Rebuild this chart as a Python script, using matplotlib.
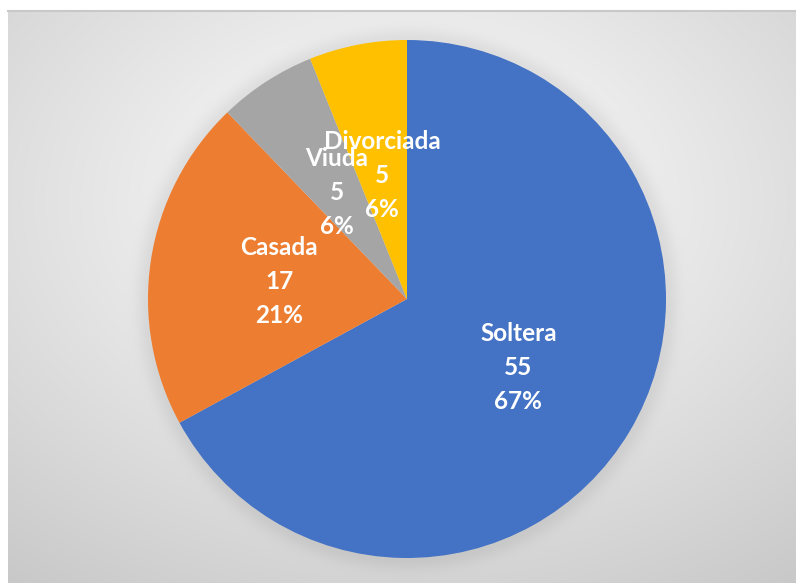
import numpy as np
import matplotlib
matplotlib.use("Agg")
import matplotlib.pyplot as plt

plt.rcParams["font.family"] = ["Lato", "DejaVu Sans"]

# data
categories = ["Soltera", "Casada", "Viuda", "Divorciada"]
counts = [55, 17, 5, 5]
percents = [67, 21, 6, 6]
colors = ["#4472C4", "#ED7D31", "#A5A5A5", "#FFC000"]

W, H = 796, 583
R = 259
pcx, pcy_top = 407, 299  # pie centre in pixels (from top)

fig = plt.figure(figsize=(W / 100, H / 100), dpi=100, facecolor="white")

# radial gradient background of the chart area, with soft pie shadow
bg = fig.add_axes([8 / W, 0, (W - 8) / W, (H - 11) / H])
bw, bh = W - 8, H - 11
yy, xx = np.mgrid[0:bh, 0:bw]
cx, cy = 396, 190
r = np.sqrt(((xx - cx) / bw) ** 2 + ((yy - cy) / bh) ** 2)
g = 1 - 0.26 * np.clip(r, 0, 1.2) ** 1.05
d = np.sqrt((xx - (pcx - 8)) ** 2 + (yy - (pcy_top - 11)) ** 2) - R
shadow = np.where(d > 0, np.exp(-(d / 12.0) ** 2), 1.0)
g = g - 0.06 * shadow
img = np.dstack([g, g, g])
bg.imshow(img, aspect="auto", origin="upper", extent=(0, bw, bh, 0))
bg.set_xticks([])
bg.set_yticks([])
for s in ["left", "right", "bottom"]:
    bg.spines[s].set_visible(False)
bg.spines["top"].set_color("#c8c8c8")
bg.spines["top"].set_linewidth(1.5)

# pie
pcy = H - pcy_top
ax = fig.add_axes([(pcx - R) / W, (pcy - R) / H, 2 * R / W, 2 * R / H])
wedges, _ = ax.pie(counts, colors=colors, startangle=90, counterclock=False,
                   radius=1, wedgeprops=dict(linewidth=0))
ax.set_xlim(-1, 1)
ax.set_ylim(-1, 1)
ax.set_aspect("equal")
ax.axis("off")

# labels inside slices
offsets = {"Soltera": (0, -0.01), "Casada": (0, -0.01), "Viuda": (0, -0.01), "Divorciada": (0, -0.015)}
for w, cat, n, p in zip(wedges, categories, counts, percents):
    ang = np.deg2rad((w.theta1 + w.theta2) / 2)
    dx, dy = offsets[cat]
    x = 0.5 * np.cos(ang) + dx
    y = 0.5 * np.sin(ang) + dy
    ax.text(x, y, f"{cat}\n{n}\n{p}%", ha="center", va="center", color="white",
            fontsize=17.5, fontweight="bold", linespacing=1.58)

fig.savefig("out.png", dpi=100, facecolor="white")
